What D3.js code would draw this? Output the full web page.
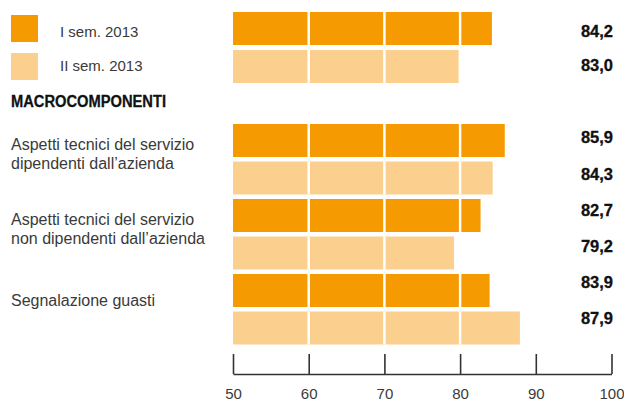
<!DOCTYPE html>
<html>
<head>
<meta charset="utf-8">
<script src="https://cdn.jsdelivr.net/npm/d3@7"></script>
<style>
  body { margin: 0; background: #fff; }
  svg { display: block; }
  text { font-family: "Liberation Sans", Arial, sans-serif; }
</style>
</head>
<body>
<svg id="chart"></svg>
<script>
// Dati
const series = ["I sem. 2013", "II sem. 2013"];
// etichette dei totali e lunghezza delle barre come appaiono nel grafico
const totalLabels = ["84,2", "83,0"];
const totals = [84.2, 79.8];
const categories = [
  ["Aspetti tecnici del servizio", "dipendenti dall\u2019azienda"],
  ["Aspetti tecnici del servizio", "non dipendenti dall\u2019azienda"],
  ["Segnalazione guasti"]
];
const sem1 = [85.9, 82.7, 83.9];
const sem2 = [84.3, 79.2, 87.9];
const ticks = [50, 60, 70, 80, 90, 100];
const title = "MACROCOMPONENTI";

// Configurazione
const width = 624;
const height = 401;
const colors = ["#f59a00", "#fbd08f"];
const fmt = v => d3.format(".1f")(v).replace(".", ",");

const svg = d3.select("#chart")
    .attr("width", width)
    .attr("height", height);

// Scale
const x = d3.scaleLinear()
    .domain([50, 100])
    .range([233, 611.5]);

const yTop = d3.scaleBand()
    .domain(d3.range(2))
    .range([12, 83])
    .paddingInner(0.1316);

const yRows = d3.scaleBand()
    .domain(d3.range(6))
    .range([124, 344.5])
    .paddingInner(0.12);

// posizione delle etichette dei valori
const labTop = d3.scaleLinear().domain([0, 1]).range([36.7, 71]);
const labRows = d3.scaleLinear().domain([0, 5]).range([143.4, 324.2]);

// Righe
const topRows = totals.map((v, i) => ({ value: v, label: totalLabels[i], s: i, y: yTop(i), ly: labTop(i) }));
const rows = [];
categories.forEach((c, i) => {
  rows.push({ value: sem1[i], label: fmt(sem1[i]), s: 0, y: yRows(i * 2), ly: labRows(i * 2) });
  rows.push({ value: sem2[i], label: fmt(sem2[i]), s: 1, y: yRows(i * 2 + 1), ly: labRows(i * 2 + 1) });
});
const allRows = topRows.concat(rows);

// Barre
svg.selectAll(".bar")
    .data(allRows)
    .enter()
    .append("rect")
    .attr("class", "bar")
    .attr("x", x(50))
    .attr("y", d => d.y)
    .attr("width", d => x(d.value) - x(50))
    .attr("height", yRows.bandwidth())
    .attr("fill", d => colors[d.s]);

// Linee bianche della griglia
allRows.forEach(d => {
  svg.selectAll(null)
      .data(ticks.filter(t => t > 50 && t < d.value))
      .enter()
      .append("line")
      .attr("x1", t => x(t))
      .attr("x2", t => x(t))
      .attr("y1", d.y)
      .attr("y2", d.y + yRows.bandwidth())
      .attr("stroke", "#fff")
      .attr("stroke-width", 2.5);
});

// Valori
svg.selectAll(".val")
    .data(allRows)
    .enter()
    .append("text")
    .attr("class", "val")
    .attr("x", 613)
    .attr("y", d => d.ly)
    .attr("text-anchor", "end")
    .attr("font-size", 16.5)
    .attr("font-weight", "bold")
    .attr("fill", "#111")
    .attr("stroke", "#111")
    .attr("stroke-width", 0.3)
    .text(d => d.label);

// Legenda
svg.selectAll(".swatch")
    .data(series)
    .enter()
    .append("rect")
    .attr("x", 11)
    .attr("y", (d, i) => yTop(i) + 3)
    .attr("width", 27)
    .attr("height", 27)
    .attr("fill", (d, i) => colors[i]);

svg.selectAll(".leg")
    .data(series)
    .enter()
    .append("text")
    .attr("x", 60)
    .attr("y", (d, i) => labTop(i))
    .attr("font-size", 15)
    .attr("fill", "#3a3a3a")
    .text(d => d);

// Titolo
svg.append("text")
    .attr("transform", "translate(11,107.3) scale(0.865,1)")
    .attr("font-size", 17)
    .attr("font-weight", "bold")
    .attr("fill", "#111")
    .attr("stroke", "#111")
    .attr("stroke-width", 0.3)
    .text(title);

// Categorie
const cat = svg.selectAll(".cat")
    .data(categories)
    .enter()
    .append("text")
    .attr("class", "cat")
    .attr("x", 11)
    .attr("y", (d, i) => yRows(i * 2) + (d.length > 1 ? 25.5 : 31.7))
    .attr("font-size", 16)
    .attr("fill", "#3a3a3a");

cat.selectAll("tspan")
    .data(d => d)
    .enter()
    .append("tspan")
    .attr("x", 11)
    .attr("dy", (d, i) => i === 0 ? 0 : 19.5)
    .text(d => d);

// Asse
const xAxis = d3.axisBottom(x)
    .tickValues(ticks)
    .tickSizeInner(-20)
    .tickSizeOuter(0)
    .tickPadding(14)
    .tickFormat(d3.format("d"));

const gx = svg.append("g")
    .attr("transform", "translate(0,374)")
    .call(xAxis);

gx.select(".domain").attr("stroke", "#333").attr("stroke-width", 1.6);
gx.selectAll(".tick line").attr("stroke", "#333").attr("stroke-width", 1.6);
gx.selectAll(".tick text")
    .attr("font-size", 15)
    .attr("font-family", "'Liberation Sans', Arial, sans-serif")
    .attr("fill", "#3a3a3a");
</script>
</body>
</html>
